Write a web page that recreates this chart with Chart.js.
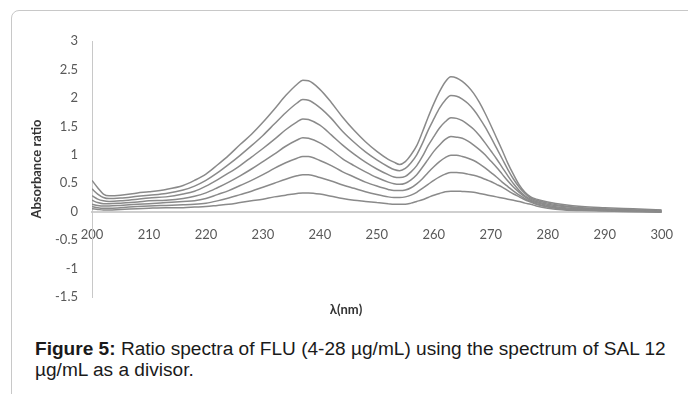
<!DOCTYPE html>
<html>
<head>
<meta charset="utf-8">
<script src="https://cdn.jsdelivr.net/npm/chart.js@4.4.1/dist/chart.umd.min.js"></script>
<style>
  html, body { margin: 0; padding: 0; background: #fff; width: 688px; height: 394px; overflow: hidden; }
  #frame { position: absolute; left: 11px; top: 10px; width: 720px; height: 420px; border: 1px solid #c8c8c8; border-radius: 8px; box-sizing: border-box; }
  #chart { position: absolute; left: 0; top: 0; }
  #caption { position: absolute; left: 35px; top: 339px; font-family: "Liberation Sans", Arial, sans-serif; font-size: 18px; line-height: 21px; color: #1a1a1a; white-space: nowrap; transform: scaleX(1.06); transform-origin: 0 0; }
</style>
</head>
<body>
<div id="frame"></div>
<canvas id="chart" width="688" height="330"></canvas>
<div id="caption"><b>Figure 5:</b> Ratio spectra of FLU (4-28 µg/mL) using the spectrum of SAL 12<br>µg/mL as a divisor.</div>
<script>
// wavelengths (nm)
const wavelengths = [200, 201, 202, 203, 205, 208, 210, 213, 216, 218,
  220, 222, 224, 226, 228, 230, 232, 234, 236, 237, 238,
  240, 242, 244, 246, 248, 250, 252,
  253, 254, 255, 256, 257, 258, 259, 260, 261, 262, 263, 264, 265, 266, 267, 268, 269, 270,
  271, 272, 273, 274, 275, 276, 277, 278,
  280, 283, 286, 290, 295, 300];

// ratio spectra, one per FLU concentration (µg/mL)
const flu28 = [0.55, 0.42, 0.31, 0.28, 0.29, 0.33, 0.35, 0.39, 0.46, 0.55,
  0.66, 0.82, 0.99, 1.18, 1.36, 1.57, 1.80, 2.04, 2.24, 2.31, 2.30,
  2.15, 1.92, 1.66, 1.43, 1.23, 1.06, 0.92,
  0.87, 0.83, 0.88, 1.00, 1.16, 1.40, 1.66, 1.90, 2.11, 2.28, 2.37, 2.35, 2.29, 2.20, 2.08, 1.92, 1.73, 1.52,
  1.30, 1.08, 0.85, 0.65, 0.47, 0.34, 0.26, 0.22,
  0.17, 0.12, 0.09, 0.07, 0.05, 0.03];
const flu24 = [0.40, 0.31, 0.25, 0.23, 0.24, 0.27, 0.29, 0.32, 0.38, 0.45,
  0.55, 0.68, 0.83, 0.99, 1.16, 1.34, 1.54, 1.74, 1.91, 1.97, 1.96,
  1.83, 1.64, 1.41, 1.22, 1.05, 0.91, 0.79,
  0.74, 0.72, 0.76, 0.86, 1.00, 1.20, 1.43, 1.63, 1.82, 1.96, 2.04, 2.03, 1.98, 1.90, 1.79, 1.65, 1.49, 1.31,
  1.12, 0.93, 0.74, 0.57, 0.43, 0.32, 0.24, 0.20,
  0.15, 0.10, 0.07, 0.05, 0.03, 0.02];
const flu20 = [0.28, 0.22, 0.19, 0.18, 0.19, 0.22, 0.24, 0.26, 0.31, 0.36,
  0.45, 0.56, 0.68, 0.81, 0.96, 1.11, 1.27, 1.44, 1.58, 1.63, 1.62,
  1.52, 1.35, 1.17, 1.01, 0.87, 0.75, 0.65,
  0.61, 0.60, 0.62, 0.70, 0.81, 0.97, 1.16, 1.32, 1.47, 1.58, 1.65, 1.64, 1.60, 1.53, 1.45, 1.34, 1.21, 1.07,
  0.93, 0.78, 0.63, 0.49, 0.37, 0.28, 0.22, 0.18,
  0.13, 0.09, 0.06, 0.04, 0.03, 0.02];
const flu16 = [0.20, 0.16, 0.14, 0.14, 0.15, 0.17, 0.19, 0.20, 0.23, 0.27,
  0.33, 0.42, 0.52, 0.63, 0.75, 0.88, 1.01, 1.15, 1.26, 1.30, 1.29,
  1.21, 1.08, 0.93, 0.81, 0.70, 0.60, 0.52,
  0.49, 0.48, 0.50, 0.56, 0.65, 0.78, 0.92, 1.06, 1.17, 1.27, 1.32, 1.31, 1.29, 1.24, 1.17, 1.09, 1.00, 0.89,
  0.78, 0.66, 0.54, 0.43, 0.34, 0.26, 0.20, 0.16,
  0.11, 0.07, 0.05, 0.03, 0.02, 0.01];
const flu12 = [0.13, 0.11, 0.10, 0.10, 0.11, 0.13, 0.14, 0.16, 0.18, 0.19,
  0.23, 0.30, 0.37, 0.46, 0.55, 0.65, 0.76, 0.86, 0.94, 0.97, 0.97,
  0.90, 0.81, 0.70, 0.61, 0.52, 0.45, 0.39,
  0.37, 0.37, 0.38, 0.42, 0.49, 0.58, 0.69, 0.79, 0.88, 0.95, 0.99, 0.99, 0.97, 0.94, 0.90, 0.84, 0.77, 0.69,
  0.61, 0.52, 0.44, 0.36, 0.29, 0.23, 0.18, 0.14,
  0.09, 0.05, 0.04, 0.02, 0.01, 0.00];
const flu8 = [0.09, 0.07, 0.06, 0.06, 0.07, 0.09, 0.10, 0.11, 0.12, 0.13,
  0.15, 0.19, 0.24, 0.30, 0.36, 0.43, 0.50, 0.57, 0.63, 0.65, 0.65,
  0.60, 0.54, 0.47, 0.41, 0.35, 0.30, 0.26,
  0.25, 0.25, 0.26, 0.29, 0.34, 0.41, 0.48, 0.55, 0.61, 0.66, 0.69, 0.69, 0.68, 0.66, 0.64, 0.61, 0.57, 0.53,
  0.48, 0.43, 0.37, 0.31, 0.26, 0.21, 0.17, 0.13,
  0.08, 0.04, 0.03, 0.02, 0.01, 0.00];
const flu4 = [0.05, 0.04, 0.03, 0.03, 0.04, 0.05, 0.06, 0.07, 0.07, 0.08,
  0.09, 0.11, 0.13, 0.16, 0.19, 0.22, 0.26, 0.29, 0.32, 0.33, 0.33,
  0.31, 0.27, 0.23, 0.20, 0.18, 0.16, 0.14,
  0.13, 0.13, 0.13, 0.15, 0.18, 0.21, 0.25, 0.29, 0.32, 0.35, 0.36, 0.36, 0.355, 0.35, 0.34, 0.32, 0.30, 0.28,
  0.26, 0.24, 0.22, 0.20, 0.18, 0.15, 0.13, 0.10,
  0.06, 0.03, 0.02, 0.01, 0.00, -0.01];

const seriesLabels = ['4 µg/mL', '8 µg/mL', '12 µg/mL', '16 µg/mL', '20 µg/mL', '24 µg/mL', '28 µg/mL'];
const seriesValues = [flu4, flu8, flu12, flu16, flu20, flu24, flu28];

const yTicks = { min: -1.5, max: 3, step: 0.5 };
const xTicks = { min: 200, max: 300, step: 10 };

const tickFont = { family: 'Lato, "Open Sans", sans-serif', size: 13 };
const tickColor = '#595959';

const datasets = seriesValues.map((vals, i) => ({
  label: seriesLabels[i],
  data: wavelengths.map((w, j) => ({ x: w, y: vals[j] })),
  borderColor: '#8a8a8a',
  borderWidth: 1.5,
  pointRadius: 0,
  fill: false,
  cubicInterpolationMode: 'monotone'
}));

new Chart(document.getElementById('chart'), {
  type: 'line',
  data: { datasets },
  options: {
    responsive: false,
    animation: false,
    layout: { padding: { left: 26, right: 22, top: 41, bottom: 12.4 } },
    plugins: {
      legend: { display: false },
      tooltip: { enabled: false },
      title: {
        display: true,
        text: 'λ(nm)',
        position: 'bottom',
        color: '#333',
        font: { family: 'Lato, "Open Sans", sans-serif', size: 13, weight: 'bold' },
        padding: { top: 5, bottom: 0 }
      }
    },
    scales: {
      x: {
        type: 'linear',
        position: { y: 0 },
        min: xTicks.min, max: xTicks.max,
        ticks: { stepSize: xTicks.step, color: tickColor, font: tickFont, padding: 15, maxRotation: 0 },
        grid: { display: false, drawTicks: false },
        border: { display: true, color: '#cfcfcf', width: 2 }
      },
      y: {
        type: 'linear',
        position: 'left',
        min: yTicks.min, max: yTicks.max,
        ticks: {
          stepSize: yTicks.step, color: tickColor, font: tickFont, padding: 14,
          callback: (v) => String(Number(v.toFixed(1)))
        },
        grid: { display: false, drawTicks: false },
        border: { display: true, color: '#c8c8c8', width: 1 },
        title: {
          display: true,
          text: 'Absorbance ratio',
          color: '#333',
          font: { family: 'Lato, "Open Sans", sans-serif', size: 13, weight: 'bold' },
          padding: { top: 3, bottom: 0 }
        },
        afterFit: (scale) => { scale.width = 66; }
      }
    }
  }
});
</script>
</body>
</html>
